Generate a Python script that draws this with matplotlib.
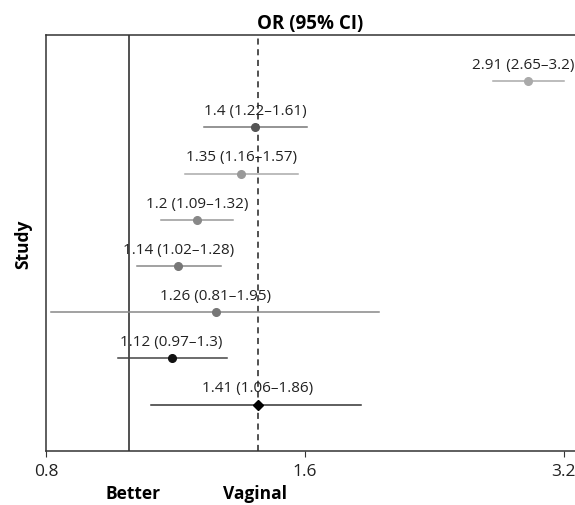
import matplotlib
matplotlib.use("Agg")
from matplotlib import pyplot as plt

plt.rcParams['font.family'] = ['Open Sans', 'DejaVu Sans']

# rows listed top to bottom; last one is the pooled estimate
odds   = [2.91, 1.4, 1.35, 1.2, 1.14, 1.26, 1.12, 1.41]
lower  = [2.65, 1.22, 1.16, 1.09, 1.02, 0.81, 0.97, 1.06]
upper  = [3.2, 1.61, 1.57, 1.32, 1.28, 1.95, 1.3, 1.86]
line_colors  = ['#aaaaaa', '#777777', '#aaaaaa', '#999999', '#888888', '#888888', '#444444', '#333333']
point_colors = ['#aaaaaa', '#555555', '#999999', '#888888', '#777777', '#777777', '#111111', '#000000']
markers = ['o'] * 7 + ['D']
pooled = 1.41
xticks = [0.8, 1.6, 3.2]
xmax = 3.3

fig = plt.figure(figsize=(5.75, 5.06), dpi=100)
ax = fig.add_axes([0.08, 0.107, 0.92, 0.822])

n = len(odds)
ys = list(range(n, 0, -1))

ax.axvline(1.0, color='#222222', lw=1.1, zorder=1)
ax.axvline(pooled, color='#222222', lw=1.1, ls=(0, (4, 3)), zorder=1)

for y, o, lo, hi, lc, pc, m in zip(ys, odds, lower, upper, line_colors, point_colors, markers):
    ax.plot([lo, hi], [y, y], color=lc, lw=1.1, zorder=2)
    ax.plot(o, y, marker=m, color=pc, ms=5.5, zorder=3)
    txt = f"{o:g} ({lo:g}\u2013{hi:g})"
    if hi > 3.0:
        # keep the label inside the frame near the right edge
        ax.annotate(txt, (0.999, y), xycoords=('axes fraction', 'data'), xytext=(0, 12),
                    textcoords='offset points', ha='right', va='center',
                    fontsize=11, color='#222222')
    else:
        ax.annotate(txt, (o, y), xytext=(0, 12),
                    textcoords='offset points', ha='center', va='center',
                    fontsize=11, color='#222222')

ax.set_xscale('log')
ax.set_xlim(0.8, xmax)
ax.set_ylim(0, 9)
ax.set_xticks(xticks)
ax.set_xticklabels([f"{t:g}" for t in xticks])
ax.minorticks_off()
ax.set_yticks([])
ax.tick_params(axis='x', labelsize=12.5, length=4, pad=5, color='#333333', labelcolor='#222222')
for side in ['left', 'bottom', 'top']:
    ax.spines[side].set_color('#333333')
    ax.spines[side].set_linewidth(1.1)
ax.spines['right'].set_visible(False)

ax.set_title("OR (95% CI)", fontsize=13.5, fontweight='bold', pad=5)
ax.set_ylabel("Study", fontsize=12.5, fontweight='bold', labelpad=10)
fig.text(0.231, 0.024, "Better", fontsize=12.5, fontweight='bold', ha='center', va='center')
fig.text(0.443, 0.024, "Vaginal", fontsize=12.5, fontweight='bold', ha='center', va='center')

fig.savefig("out.png", dpi=100)
